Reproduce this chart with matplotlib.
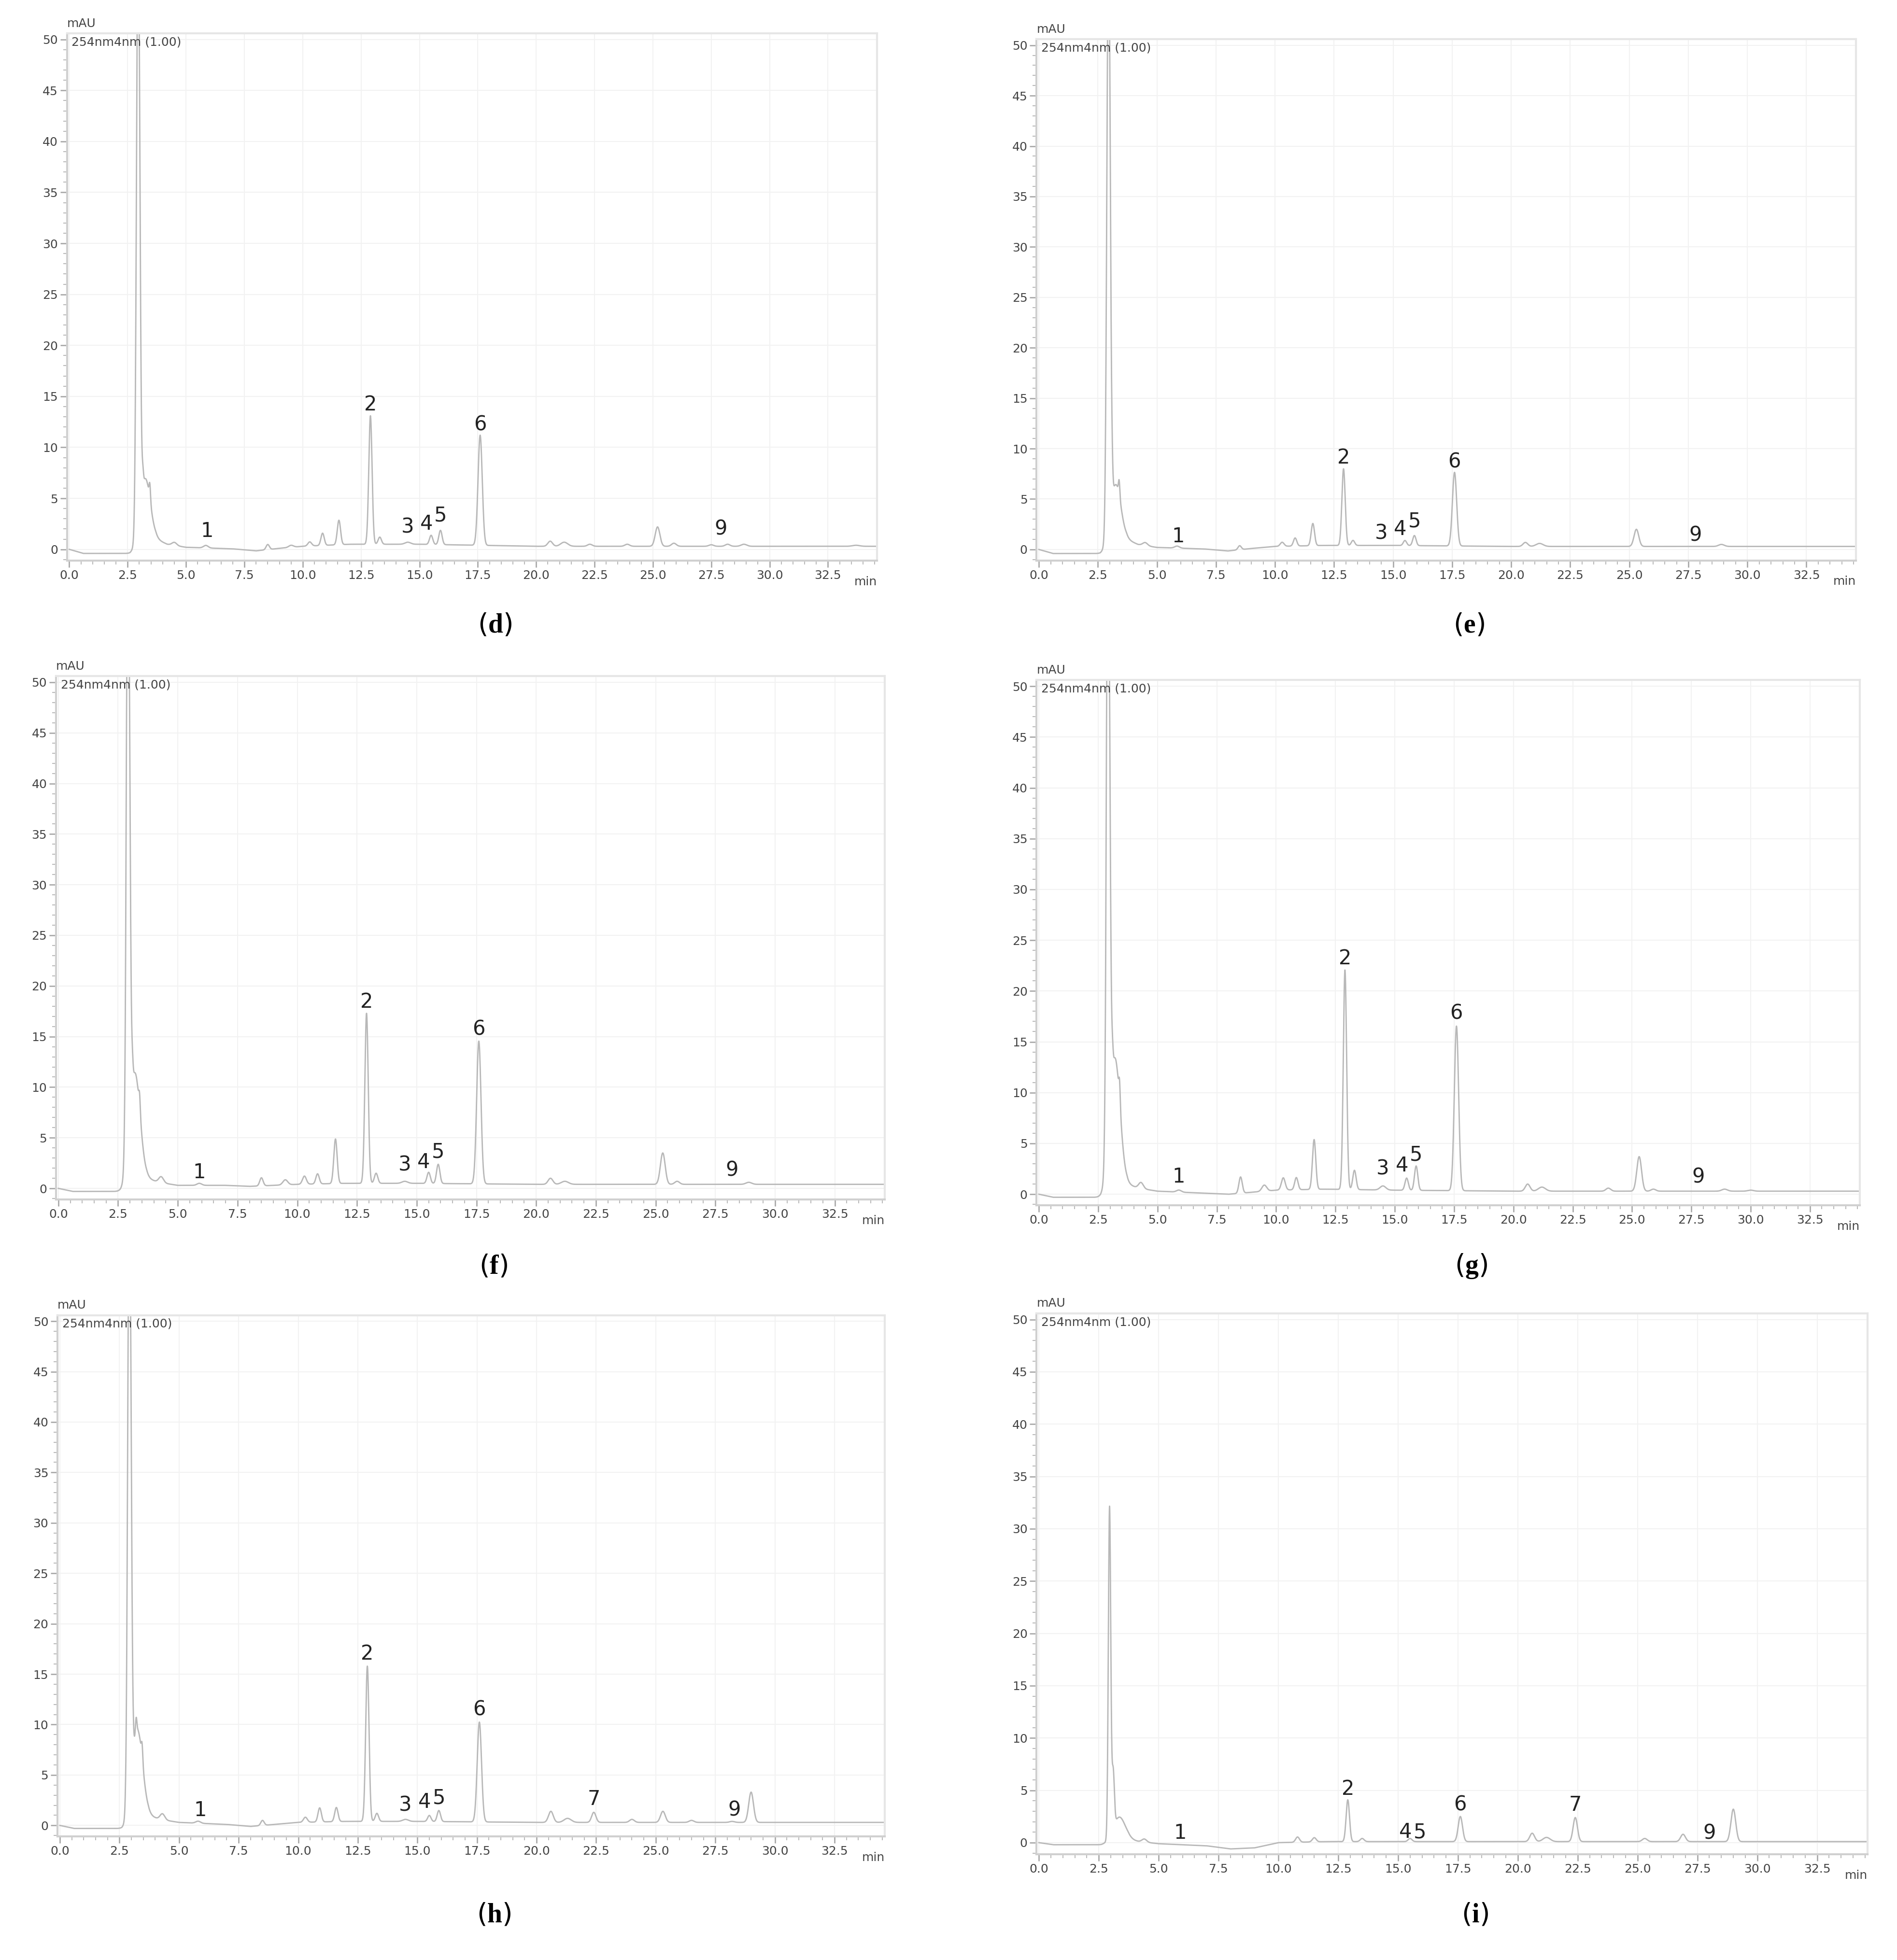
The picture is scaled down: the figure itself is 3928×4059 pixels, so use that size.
import numpy as np
import matplotlib
matplotlib.use("Agg")
import matplotlib.pyplot as plt
from matplotlib.ticker import MultipleLocator

plt.rcParams['mathtext.fontset'] = 'custom'
plt.rcParams['mathtext.rm'] = 'Liberation Serif'
plt.rcParams['mathtext.bf'] = 'Liberation Serif:bold'

# ---- data: peaks (time, height mAU, sigma min) ----
peaks_d = [(2.95, 60, 0.07), (3.25, 6.5, 0.22), (3.15, 1.2, 0.03), (3.45, 1.5, 0.03), (4.5, 0.3, 0.1), (5.85, 0.25, 0.1),
           (8.5, 0.5, 0.07), (9.5, 0.2, 0.1), (10.3, 0.4, 0.08), (10.85, 1.2, 0.07), (11.55, 2.4, 0.07), (12.9, 12.6, 0.07),
           (13.3, 0.7, 0.07), (14.5, 0.2, 0.12), (15.5, 0.9, 0.07), (15.9, 1.4, 0.07), (17.6, 10.8, 0.09), (20.6, 0.5, 0.1),
           (21.2, 0.4, 0.15), (22.3, 0.2, 0.1), (23.9, 0.2, 0.1), (25.2, 1.9, 0.1), (25.9, 0.3, 0.1), (27.5, 0.15, 0.1),
           (28.2, 0.2, 0.1), (28.9, 0.2, 0.12), (33.7, 0.1, 0.15)]
base_t = [0, 0.6, 2.6, 3.7, 4.2, 5.0, 7.0, 8.0, 9.0, 10.0, 12.0, 15.0, 20.0, 35.0]
base_d = [0, -0.4, -0.4, 1.0, 0.5, 0.2, 0.05, -0.15, 0.1, 0.3, 0.5, 0.5, 0.3, 0.3]

peaks_e = [(2.95, 60, 0.07), (3.25, 6.0, 0.22), (3.1, 1.2, 0.03), (3.4, 1.5, 0.03), (4.5, 0.3, 0.1), (5.85, 0.2, 0.1),
           (8.5, 0.4, 0.07), (10.3, 0.4, 0.08), (10.85, 0.8, 0.07), (11.6, 2.2, 0.07), (12.9, 7.6, 0.07), (13.3, 0.5, 0.07),
           (15.5, 0.5, 0.07), (15.9, 1.0, 0.07), (17.6, 7.3, 0.09), (20.6, 0.4, 0.1), (21.2, 0.3, 0.15), (25.3, 1.7, 0.1),
           (28.9, 0.2, 0.12)]
base_e = [0, -0.4, -0.4, 1.0, 0.5, 0.2, 0.05, -0.15, 0.1, 0.3, 0.4, 0.4, 0.3, 0.3]

peaks_f = [(2.92, 60, 0.07), (2.85, 5, 0.02), (3.2, 11.0, 0.22), (3.1, 1.5, 0.03), (3.4, 1.5, 0.03), (4.3, 0.6, 0.1),
           (5.9, 0.2, 0.1), (8.5, 0.8, 0.07), (9.5, 0.5, 0.1), (10.3, 0.8, 0.08), (10.85, 1.0, 0.07), (11.6, 4.4, 0.07),
           (12.9, 16.8, 0.07), (13.3, 1.0, 0.07), (14.5, 0.2, 0.12), (15.5, 1.1, 0.07), (15.9, 1.9, 0.07), (17.6, 14.1, 0.09),
           (20.6, 0.6, 0.1), (21.2, 0.3, 0.15), (25.3, 3.1, 0.1), (25.9, 0.3, 0.1), (28.9, 0.2, 0.12)]
base_f = [0, -0.3, -0.3, 1.0, 0.6, 0.3, 0.3, 0.2, 0.3, 0.4, 0.5, 0.5, 0.4, 0.4]

peaks_g = [(2.92, 60, 0.07), (2.85, 6, 0.02), (3.2, 13.0, 0.22), (3.1, 1.5, 0.03), (3.4, 2.0, 0.03), (4.3, 0.6, 0.1),
           (5.9, 0.2, 0.1), (8.5, 1.6, 0.07), (9.5, 0.6, 0.1), (10.3, 1.2, 0.08), (10.85, 1.2, 0.07), (11.6, 4.9, 0.07),
           (12.9, 21.6, 0.07), (13.3, 1.9, 0.07), (14.5, 0.4, 0.12), (15.5, 1.2, 0.07), (15.9, 2.4, 0.07), (17.6, 16.2, 0.09),
           (20.6, 0.7, 0.1), (21.2, 0.4, 0.15), (24.0, 0.3, 0.1), (25.3, 3.4, 0.1), (25.9, 0.2, 0.1), (28.9, 0.2, 0.12),
           (30.0, 0.1, 0.12)]
base_g = [0, -0.3, -0.3, 1.0, 0.6, 0.3, 0.1, 0.0, 0.2, 0.4, 0.5, 0.4, 0.3, 0.3]

peaks_h = [(2.92, 60, 0.07), (2.85, 4, 0.02), (3.25, 9.0, 0.22), (3.2, 1.5, 0.03), (3.45, 1.5, 0.03), (4.3, 0.6, 0.1),
           (5.8, 0.2, 0.1), (8.5, 0.5, 0.07), (10.3, 0.5, 0.08), (10.9, 1.4, 0.07), (11.6, 1.4, 0.07), (12.9, 15.4, 0.07),
           (13.3, 0.8, 0.07), (14.5, 0.2, 0.12), (15.5, 0.6, 0.07), (15.9, 1.1, 0.07), (17.6, 9.9, 0.09), (20.6, 1.1, 0.1),
           (21.3, 0.4, 0.15), (22.4, 1.0, 0.09), (24.0, 0.3, 0.1), (25.3, 1.1, 0.1), (26.5, 0.2, 0.1), (28.2, 0.1, 0.1),
           (29.0, 3.0, 0.1)]
base_h = [0, -0.3, -0.3, 1.0, 0.6, 0.3, 0.1, -0.1, 0.1, 0.3, 0.4, 0.4, 0.3, 0.3]

peaks_i = [(2.95, 31.5, 0.05), (3.1, 5.5, 0.05), (3.35, 2.3, 0.25), (4.4, 0.3, 0.1), (10.8, 0.5, 0.08), (11.5, 0.4, 0.08),
           (12.9, 4.0, 0.07), (13.5, 0.3, 0.08), (15.5, 0.3, 0.08), (17.6, 2.4, 0.09), (20.6, 0.8, 0.1), (21.2, 0.4, 0.15),
           (22.4, 2.3, 0.09), (25.3, 0.3, 0.1), (26.9, 0.7, 0.1), (29.0, 3.1, 0.1)]
base_i = [0, -0.2, -0.2, 0.3, 0.1, -0.1, -0.3, -0.6, -0.5, 0.0, 0.1, 0.1, 0.1, 0.1]

labels_d = [("1", 5.9, 1.8), ("2", 12.9, 14.2), ("3", 14.5, 2.2), ("4", 15.3, 2.5), ("5", 15.9, 3.3), ("6", 17.6, 12.2), ("9", 27.9, 2.0)]
labels_e = [("1", 5.9, 1.3), ("2", 12.9, 9.1), ("3", 14.5, 1.6), ("4", 15.3, 2.0), ("5", 15.9, 2.8), ("6", 17.6, 8.7), ("9", 27.8, 1.4)]
labels_f = [("1", 5.9, 1.6), ("2", 12.9, 18.4), ("3", 14.5, 2.3), ("4", 15.3, 2.6), ("5", 15.9, 3.6), ("6", 17.6, 15.7), ("9", 28.2, 1.8)]
labels_g = [("1", 5.9, 1.7), ("2", 12.9, 23.2), ("3", 14.5, 2.5), ("4", 15.3, 2.8), ("5", 15.9, 3.9), ("6", 17.6, 17.8), ("9", 27.8, 1.7)]
labels_h = [("1", 5.9, 1.5), ("2", 12.9, 17.0), ("3", 14.5, 2.0), ("4", 15.3, 2.3), ("5", 15.9, 2.7), ("6", 17.6, 11.5), ("7", 22.4, 2.6), ("9", 28.3, 1.5)]
labels_i = [("1", 5.9, 0.9), ("2", 12.9, 5.1), ("4", 15.3, 1.0), ("5", 15.9, 1.0), ("6", 17.6, 3.6), ("7", 22.4, 3.6), ("9", 28.0, 0.9)]

x_ticks = [0.0, 2.5, 5.0, 7.5, 10.0, 12.5, 15.0, 17.5, 20.0, 22.5, 25.0, 27.5, 30.0, 32.5]
y_ticks = [0, 5, 10, 15, 20, 25, 30, 35, 40, 45, 50]

panels = [
    ("d", peaks_d, base_d, labels_d, [0.0353, 0.714, 0.427, 0.269], 0.681),
    ("e", peaks_e, base_e, labels_e, [0.5464, 0.714, 0.432, 0.266], 0.681),
    ("f", peaks_f, base_f, labels_f, [0.0295, 0.388, 0.437, 0.267], 0.354),
    ("g", peaks_g, base_g, labels_g, [0.5464, 0.385, 0.434, 0.268], 0.354),
    ("h", peaks_h, base_h, labels_h, [0.0303, 0.063, 0.436, 0.266], 0.023),
    ("i", peaks_i, base_i, labels_i, [0.5464, 0.054, 0.438, 0.276], 0.023),
]

fig = plt.figure(figsize=(39.28, 40.59), dpi=100)
t = np.linspace(0, 34.6, 8000)
for name, pk, base, labs, pos, ly in panels:
    ax = fig.add_axes(pos)
    y = np.interp(t, base_t, base)
    for (c, h, s) in pk:
        y = y + h * np.exp(-0.5 * ((t - c) / s) ** 2)
    ax.plot(t, y, color="#b8b8b8", lw=2.0)
    ax.set_xlim(-0.1, 34.6)
    ax.set_ylim(-1.1, 50.6)
    ax.set_xticks(x_ticks)
    ax.set_xticklabels([f"{v:.1f}" for v in x_ticks])
    ax.set_yticks(y_ticks)
    ax.xaxis.set_minor_locator(MultipleLocator(0.5))
    ax.yaxis.set_minor_locator(MultipleLocator(1))
    ax.grid(True, which="major", color="#f2f2f2", lw=1.5)
    ax.tick_params(axis="both", which="major", labelsize=18, colors="#aaaaaa",
                   labelcolor="#444444", length=10, width=2)
    ax.tick_params(axis="both", which="minor", colors="#bbbbbb", length=6, width=1.5)
    for sp in ["top", "right"]:
        ax.spines[sp].set_color("#e6e6e6")
        ax.spines[sp].set_linewidth(3)
    for sp in ["left", "bottom"]:
        ax.spines[sp].set_color("#d0d0d0")
        ax.spines[sp].set_linewidth(3)
    ax.text(34.6, -2.6, "min", fontsize=18, color="#444444", ha="right", va="top")
    ax.text(-0.1, 51.0, "mAU", fontsize=18, color="#444444", ha="left", va="bottom")
    ax.text(0.1, 50.3, "254nm4nm (1.00)", fontsize=18, color="#444444", ha="left", va="top")
    for txt, xx, yy in labs:
        ax.text(xx, yy, txt, fontsize=30, ha="center", va="center", color="#222222")
    cx = pos[0] + pos[2] * 0.5 + 0.012
    fig.text(cx, ly, "($\\mathbf{" + name + "}$)", fontsize=40, ha="center", va="center")

fig.savefig("out.png", dpi=100, facecolor="white")
